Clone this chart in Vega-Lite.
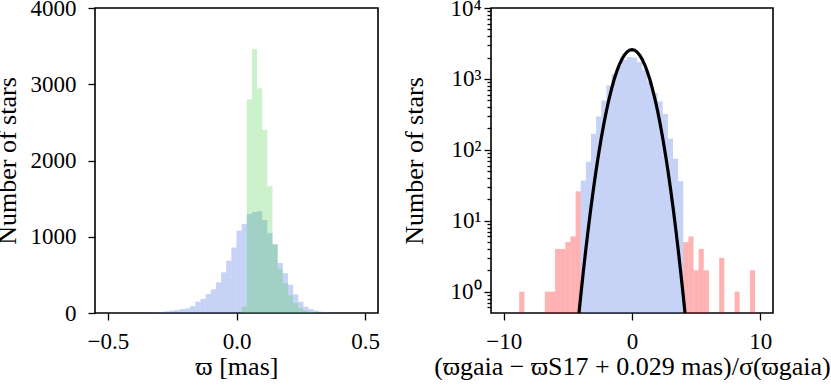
{
  "$schema": "https://vega.github.io/schema/vega-lite/v6.json",
  "padding": {"left": -7, "top": -4, "right": 0, "bottom": 0},
  "background": "white",
  "spacing": 20,
  "config": {
    "font": "Liberation Serif",
    "view": {"stroke": "black", "strokeWidth": 1.6},
    "axis": {
      "labelFont": "Liberation Serif", "titleFont": "Liberation Serif",
      "labelFontSize": 23, "titleFontSize": 26, "labelColor": "black", "titleColor": "black",
      "titleFontWeight": "normal", "tickColor": "black", "tickSize": 7, "tickWidth": 1.3,
      "domain": false, "grid": false, "labelPadding": 6, "titlePadding": 12,
      "labelFlush": false, "labelOverlap": false
    },
    "axisX": {"labelPadding": 10, "titlePadding": 0}
  },
  "datasets": {
    "leftBlue": [
      {"start": -0.40, "end": -0.38, "count": 1},
      {"start": -0.38, "end": -0.36, "count": 2},
      {"start": -0.36, "end": -0.34, "count": 4},
      {"start": -0.34, "end": -0.32, "count": 6},
      {"start": -0.32, "end": -0.30, "count": 9},
      {"start": -0.30, "end": -0.28, "count": 15},
      {"start": -0.28, "end": -0.26, "count": 22},
      {"start": -0.26, "end": -0.24, "count": 31},
      {"start": -0.24, "end": -0.22, "count": 39},
      {"start": -0.22, "end": -0.20, "count": 52},
      {"start": -0.20, "end": -0.18, "count": 61},
      {"start": -0.18, "end": -0.16, "count": 92},
      {"start": -0.16, "end": -0.14, "count": 149},
      {"start": -0.14, "end": -0.12, "count": 184},
      {"start": -0.12, "end": -0.10, "count": 249},
      {"start": -0.10, "end": -0.08, "count": 310},
      {"start": -0.08, "end": -0.06, "count": 402},
      {"start": -0.06, "end": -0.04, "count": 533},
      {"start": -0.04, "end": -0.02, "count": 686},
      {"start": -0.02, "end": 0.00, "count": 858},
      {"start": 0.00, "end": 0.02, "count": 1079},
      {"start": 0.02, "end": 0.04, "count": 1167},
      {"start": 0.04, "end": 0.06, "count": 1298},
      {"start": 0.06, "end": 0.08, "count": 1325},
      {"start": 0.08, "end": 0.10, "count": 1334},
      {"start": 0.10, "end": 0.12, "count": 1220},
      {"start": 0.12, "end": 0.14, "count": 1045},
      {"start": 0.14, "end": 0.16, "count": 900},
      {"start": 0.16, "end": 0.18, "count": 656},
      {"start": 0.18, "end": 0.20, "count": 520},
      {"start": 0.20, "end": 0.22, "count": 370},
      {"start": 0.22, "end": 0.24, "count": 243},
      {"start": 0.24, "end": 0.26, "count": 148},
      {"start": 0.26, "end": 0.28, "count": 83},
      {"start": 0.28, "end": 0.30, "count": 48},
      {"start": 0.30, "end": 0.32, "count": 31},
      {"start": 0.32, "end": 0.34, "count": 17},
      {"start": 0.34, "end": 0.36, "count": 9},
      {"start": 0.36, "end": 0.38, "count": 5},
      {"start": 0.38, "end": 0.40, "count": 2}
    ],
    "leftGreen": [
      {"start": 0.02, "end": 0.04, "count": 83},
      {"start": 0.04, "end": 0.06, "count": 2803},
      {"start": 0.06, "end": 0.08, "count": 3458},
      {"start": 0.08, "end": 0.10, "count": 2947},
      {"start": 0.10, "end": 0.12, "count": 2400},
      {"start": 0.12, "end": 0.14, "count": 1661},
      {"start": 0.14, "end": 0.16, "count": 901},
      {"start": 0.16, "end": 0.18, "count": 580},
      {"start": 0.18, "end": 0.20, "count": 390},
      {"start": 0.20, "end": 0.22, "count": 230},
      {"start": 0.22, "end": 0.24, "count": 130},
      {"start": 0.24, "end": 0.26, "count": 65},
      {"start": 0.26, "end": 0.28, "count": 30},
      {"start": 0.28, "end": 0.30, "count": 12},
      {"start": 0.30, "end": 0.32, "count": 5}
    ],
    "rightRed": [
      {"start": -8.8, "end": -8.4, "count": 1},
      {"start": -6.8, "end": -6.4, "count": 1},
      {"start": -6.4, "end": -6.0, "count": 1},
      {"start": -6.0, "end": -5.6, "count": 4},
      {"start": -5.6, "end": -5.2, "count": 4},
      {"start": -5.2, "end": -4.8, "count": 5},
      {"start": -4.8, "end": -4.4, "count": 6},
      {"start": -4.4, "end": -4.0, "count": 26},
      {"start": 4.0, "end": 4.4, "count": 5},
      {"start": 4.4, "end": 4.8, "count": 6},
      {"start": 4.8, "end": 5.2, "count": 2},
      {"start": 5.2, "end": 5.6, "count": 4},
      {"start": 5.6, "end": 6.0, "count": 2},
      {"start": 6.8, "end": 7.2, "count": 3},
      {"start": 8.0, "end": 8.4, "count": 1},
      {"start": 9.2, "end": 9.6, "count": 2}
    ],
    "rightBlue": [
      {"start": -4.0, "end": -3.6, "count": 37},
      {"start": -3.6, "end": -3.2, "count": 68},
      {"start": -3.2, "end": -2.8, "count": 169},
      {"start": -2.8, "end": -2.4, "count": 295},
      {"start": -2.4, "end": -2.0, "count": 497},
      {"start": -2.0, "end": -1.6, "count": 805},
      {"start": -1.6, "end": -1.2, "count": 1170},
      {"start": -1.2, "end": -0.8, "count": 1550},
      {"start": -0.8, "end": -0.4, "count": 1860},
      {"start": -0.4, "end": 0.0, "count": 2040},
      {"start": 0.0, "end": 0.4, "count": 2000},
      {"start": 0.4, "end": 0.8, "count": 1730},
      {"start": 0.8, "end": 1.2, "count": 1350},
      {"start": 1.2, "end": 1.6, "count": 925},
      {"start": 1.6, "end": 2.0, "count": 633},
      {"start": 2.0, "end": 2.4, "count": 484},
      {"start": 2.4, "end": 2.8, "count": 320},
      {"start": 2.8, "end": 3.2, "count": 145},
      {"start": 3.2, "end": 3.6, "count": 75},
      {"start": 3.6, "end": 4.0, "count": 36}
    ],
    "curve": [
      {"x": -4.2, "y": 0.382}, {"x": -4.0, "y": 0.869}, {"x": -3.8, "y": 1.896}, {"x": -3.6, "y": 3.97},
      {"x": -3.4, "y": 8.0}, {"x": -3.2, "y": 15.48}, {"x": -3.0, "y": 28.8}, {"x": -2.8, "y": 51.4},
      {"x": -2.6, "y": 88.2}, {"x": -2.4, "y": 145.4}, {"x": -2.2, "y": 230.3}, {"x": -2.0, "y": 350.5},
      {"x": -1.8, "y": 512.5}, {"x": -1.6, "y": 720}, {"x": -1.4, "y": 972}, {"x": -1.2, "y": 1261},
      {"x": -1.0, "y": 1571}, {"x": -0.8, "y": 1881}, {"x": -0.6, "y": 2163}, {"x": -0.4, "y": 2391},
      {"x": -0.2, "y": 2539}, {"x": 0.0, "y": 2590}, {"x": 0.2, "y": 2539}, {"x": 0.4, "y": 2391},
      {"x": 0.6, "y": 2163}, {"x": 0.8, "y": 1881}, {"x": 1.0, "y": 1571}, {"x": 1.2, "y": 1261},
      {"x": 1.4, "y": 972}, {"x": 1.6, "y": 720}, {"x": 1.8, "y": 512.5}, {"x": 2.0, "y": 350.5},
      {"x": 2.2, "y": 230.3}, {"x": 2.4, "y": 145.4}, {"x": 2.6, "y": 88.2}, {"x": 2.8, "y": 51.4},
      {"x": 3.0, "y": 28.8}, {"x": 3.2, "y": 15.48}, {"x": 3.4, "y": 8.0}, {"x": 3.6, "y": 3.97},
      {"x": 3.8, "y": 1.896}, {"x": 4.0, "y": 0.869}, {"x": 4.2, "y": 0.382}
    ]
  },
  "hconcat": [
    {
      "width": 283,
      "height": 305,
      "layer": [
        {
          "data": {"name": "leftBlue"},
          "mark": {"type": "rect", "color": "#4169e1", "opacity": 0.3},
          "encoding": {
            "x": {"field": "start", "type": "quantitative",
                  "scale": {"domain": [-0.55, 0.55], "nice": false, "zero": false},
                  "axis": {"values": [-0.5, 0, 0.5], "format": ".1f", "title": "ϖ [mas]"}},
            "x2": {"field": "end"},
            "y": {"field": "count", "type": "quantitative",
                  "scale": {"domain": [0, 4000], "nice": false},
                  "axis": {"values": [0, 1000, 2000, 3000, 4000], "format": "d", "title": "Number of stars",
                           "labelPadding": 12, "titlePadding": 10}},
            "y2": {"datum": 0}
          }
        },
        {
          "data": {"name": "leftGreen"},
          "mark": {"type": "rect", "color": "#32cd32", "opacity": 0.25},
          "encoding": {
            "x": {"field": "start", "type": "quantitative"},
            "x2": {"field": "end"},
            "y": {"field": "count", "type": "quantitative"},
            "y2": {"datum": 0}
          }
        }
      ]
    },
    {
      "width": 282,
      "height": 305,
      "resolve": {"axis": {"y": "independent"}},
      "layer": [
        {
          "data": {"name": "rightRed"},
          "mark": {"type": "rect", "color": "#ff0000", "opacity": 0.3},
          "encoding": {
            "x": {"field": "start", "type": "quantitative",
                  "scale": {"domain": [-11, 11], "nice": false, "zero": false},
                  "axis": {"values": [-10, 0, 10], "format": "d", "title": "(ϖgaia − ϖS17 + 0.029 mas)/σ(ϖgaia)"}},
            "x2": {"field": "end"},
            "y": {"field": "count", "type": "quantitative",
                  "scale": {"type": "log", "domain": [0.5, 10000], "nice": false},
                  "axis": {"orient": "left", "values": [1, 10, 100, 1000, 10000], "title": "Number of stars",
                           "labelPadding": 3, "titlePadding": 22,
                           "labelExpr": "datum.value == 1 ? '10⁰' : datum.value == 10 ? '10¹' : datum.value == 100 ? '10²' : datum.value == 1000 ? '10³' : '10⁴'"}},
            "y2": {"datum": 0.5}
          }
        },
        {
          "data": {"name": "rightBlue"},
          "mark": {"type": "rect", "color": "#4169e1", "opacity": 0.3},
          "encoding": {
            "x": {"field": "start", "type": "quantitative"},
            "x2": {"field": "end"},
            "y": {"field": "count", "type": "quantitative",
                  "axis": {"orient": "left", "labels": false, "title": null, "tickSize": 4,
                           "values": [0.6, 0.7, 0.8, 0.9, 2, 3, 4, 5, 6, 7, 8, 9, 20, 30, 40, 50, 60, 70, 80, 90, 200, 300, 400, 500, 600, 700, 800, 900, 2000, 3000, 4000, 5000, 6000, 7000, 8000, 9000]}},
            "y2": {"datum": 0.5}
          }
        },
        {
          "data": {"name": "curve"},
          "mark": {"type": "line", "color": "black", "strokeWidth": 3.2, "clip": true},
          "encoding": {
            "x": {"field": "x", "type": "quantitative"},
            "y": {"field": "y", "type": "quantitative", "axis": null}
          }
        }
      ]
    }
  ]
}
